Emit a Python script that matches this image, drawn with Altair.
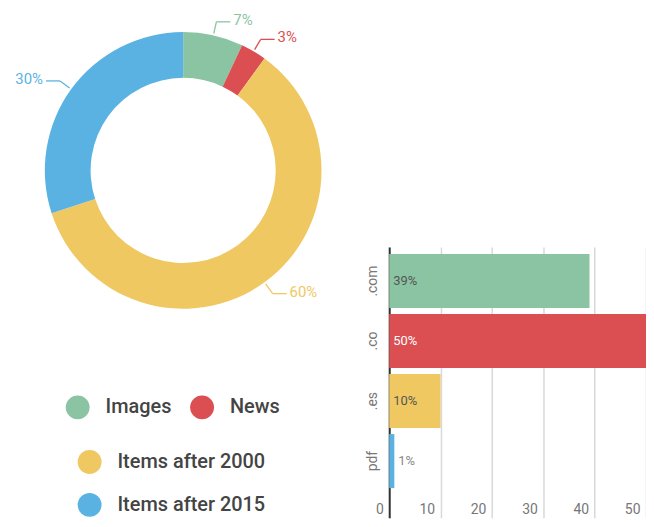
import altair as alt
import pandas as pd

# ---- data ----
donut_cats = ["Images", "News", "Items after 2000", "Items after 2015"]
donut_vals = [7, 3, 60, 30]
bar_cats = [".com", ".co", ".es", "pdf"]
bar_vals = [39, 50, 10, 1]
x_ticks = [0, 10, 20, 30, 40, 50]

palette = ["#8bc4a3", "#db4f53", "#f0c862", "#5ab2e3"]

FONT = "Roboto"
W, H = 352, 324
CX, CY = W / 2, H / 2
R_OUT, R_IN = 139, 93

donut_df = pd.DataFrame({"cat": donut_cats, "value": donut_vals})

base = alt.Chart(donut_df).transform_window(
    end="sum(value)", frame=[None, 0]
).transform_calculate(start="datum.end - datum.value")

theta = alt.Theta("start:Q", scale=alt.Scale(domain=[0, 100]))

legend_common = dict(
    orient="none",
    title=None,
    symbolType="circle",
    symbolSize=576,
    symbolStrokeWidth=0,
    symbolOpacity=1,
    labelFont=FONT,
    labelFontSize=20,
    labelFontWeight=500,
    labelColor="#444444",
    labelOffset=16,
    labelLimit=300,
)

arcs_a = base.transform_filter(
    alt.FieldOneOfPredicate(field="cat", oneOf=donut_cats[:2])
).mark_arc(radius=R_OUT, radius2=R_IN).encode(
    theta=theta,
    theta2="end:Q",
    color=alt.Color(
        "cat:N",
        scale=alt.Scale(domain=donut_cats[:2], range=palette[:2]),
        legend=alt.Legend(direction="horizontal", legendX=58, legendY=388,
                          columnPadding=18, **legend_common),
    ),
)

arcs_b = base.transform_filter(
    alt.FieldOneOfPredicate(field="cat", oneOf=donut_cats[2:])
).mark_arc(radius=R_OUT, radius2=R_IN).encode(
    theta=theta,
    theta2="end:Q",
    color=alt.Color(
        "cat:N",
        scale=alt.Scale(domain=donut_cats[2:], range=palette[2:]),
        legend=alt.Legend(direction="vertical", legendX=70, legendY=443,
                          rowPadding=19, **legend_common),
    ),
)

geo = base.transform_calculate(
    a="2*PI*(datum.start + datum.value/2)/100",
).transform_calculate(
    s="datum.a < PI ? 1 : -1",
    x0=f"{CX} + {R_OUT + 2}*sin(datum.a)",
    y0=f"{CY} - {R_OUT + 2}*cos(datum.a)",
    x1=f"{CX} + {R_OUT + 14}*sin(datum.a)",
    y1=f"{CY} - {R_OUT + 14}*cos(datum.a)",
).transform_calculate(
    x2="datum.x1 + datum.s*14",
    tx="datum.x1 + datum.s*17",
    lab="datum.value + '%'",
)

line_color = alt.Color("cat:N", scale=alt.Scale(domain=donut_cats, range=palette), legend=None)

seg1 = geo.mark_rule(strokeWidth=1.3).encode(
    x=alt.X("x0:Q", scale=None, axis=None),
    y=alt.Y("y0:Q", scale=None, axis=None),
    x2="x1:Q",
    y2="y1:Q",
    color=line_color,
)
seg2 = geo.mark_rule(strokeWidth=1.3).encode(
    x=alt.X("x1:Q", scale=None, axis=None),
    y=alt.Y("y1:Q", scale=None, axis=None),
    x2="x2:Q",
    y2="y1:Q",
    color=line_color,
)
lab_r = geo.transform_filter("datum.s > 0").mark_text(
    align="left", baseline="middle", font=FONT, fontSize=15, dy=-2
).encode(
    x=alt.X("tx:Q", scale=None, axis=None),
    y=alt.Y("y1:Q", scale=None, axis=None),
    text="lab:N",
    color=line_color,
)
lab_l = geo.transform_filter("datum.s < 0").mark_text(
    align="right", baseline="middle", font=FONT, fontSize=15, dy=-2
).encode(
    x=alt.X("tx:Q", scale=None, axis=None),
    y=alt.Y("y1:Q", scale=None, axis=None),
    text="lab:N",
    color=line_color,
)

donut = alt.layer(arcs_a, arcs_b, seg1, seg2, lab_r, lab_l).resolve_scale(
    color="independent"
).properties(width=W, height=H)

# ---- bar chart ----
bar_df = pd.DataFrame({"domain": bar_cats, "pct": bar_vals})

y_enc = alt.Y(
    "domain:N",
    sort=None,
    scale=alt.Scale(paddingInner=0.1, paddingOuter=0.3055, align=0.19),
    axis=alt.Axis(
        title=None, labelAngle=270, labelAlign="center", labelBaseline="bottom",
        labelPadding=10, ticks=False, tickSize=0, domainColor="#333333", domainWidth=2,
        labelFont=FONT, labelFontSize=14, labelColor="#777777", grid=False,
    ),
)
x_enc = alt.X(
    "pct:Q",
    scale=alt.Scale(domain=[0, 50], nice=False, clamp=True),
    axis=alt.Axis(
        values=x_ticks, title=None, domain=False, ticks=False, tickSize=0,
        grid=True, gridColor="#d9d9d9", gridWidth=1.5,
        labelAlign="right", labelOffset=-6, labelBaseline="middle", labelPadding=-8,
        labelFont=FONT, labelFontSize=14, labelColor="#777777", labelFlush=False,
    ),
)

bars = alt.Chart(bar_df).mark_bar().encode(
    y=y_enc,
    x=x_enc,
    color=alt.Color("domain:N", scale=alt.Scale(domain=bar_cats, range=palette), legend=None),
)

bar_text = alt.Chart(bar_df).transform_calculate(
    pos="datum.pct < 5 ? datum.pct : 0",
    lab="datum.pct + '%'",
).mark_text(align="left", baseline="middle", dx=4, font=FONT, fontSize=13).encode(
    y=alt.Y("domain:N", sort=None),
    x=alt.X("pos:Q"),
    text="lab:N",
    color=alt.value(
        "#555555",
        condition=[
            {"test": "datum.domain == '.co'", "value": "#ffffff"},
            {"test": "datum.pct < 5", "value": "#888888"},
        ],
    ),
)

bar_chart = alt.layer(bars, bar_text).properties(width=258, height=272)

spacer_df = pd.DataFrame({"s": [0]})
spacer = alt.Chart(spacer_df).mark_point(opacity=0).encode(
    x=alt.X("s:Q", axis=None), y=alt.Y("s:Q", axis=None)
).properties(width=10, height=239)

right = alt.vconcat(spacer, bar_chart, spacing=0).resolve_scale(
    x="independent", y="independent", color="independent"
)

chart = alt.hconcat(donut, right, spacing=7).resolve_scale(
    x="independent", y="independent", color="independent"
).properties(padding=0, background="white").configure_view(stroke=None)

chart.save("out.html", embed_options={"renderer": "svg", "actions": False})
